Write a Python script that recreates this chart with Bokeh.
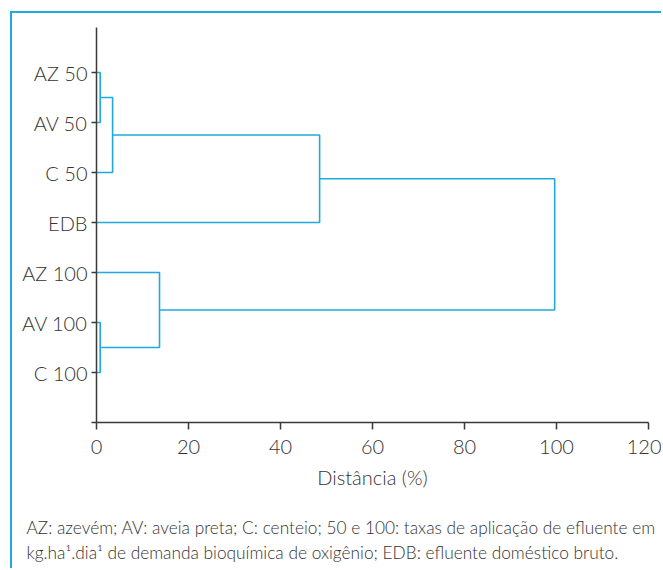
from bokeh.plotting import figure
from bokeh.models import FixedTicker, Range1d, Title
from bokeh.embed import file_html
from bokeh.resources import INLINE

# ---- data ----
leaf_labels = ["AZ 50", "AV 50", "C 50", "EDB", "AZ 100", "AV 100", "C 100"]
# linkage: (node_a, node_b, distance); leaves 0..6, new clusters numbered from 7
link_a = [0, 7, 8, 5, 4, 9]
link_b = [1, 2, 3, 6, 10, 11]
link_h = [0.8, 3.5, 48.5, 0.8, 13.7, 99.6]
x_ticks = [0, 20, 40, 60, 80, 100, 120]
x_title = "Distância (%)"
caption = ["AZ: azevém; AV: aveia preta; C: centeio; 50 e 100: taxas de aplicação de efluente em",
           "kg.ha¹.dia¹ de demanda bioquímica de oxigênio; EDB: efluente doméstico bruto."]

FONT = "Lato Light, Lato"
LINE = "#22a9dd"
AX = "#3a3a3a"
TXT = "#333333"

n = len(leaf_labels)
ypos = {i: n - i for i in range(n)}
xpos = {i: 0.0 for i in range(n)}
xs, ys = [], []
for k, (a, b, h) in enumerate(zip(link_a, link_b, link_h)):
    ya, yb = ypos[a], ypos[b]
    xa, xb = xpos[a], xpos[b]
    xs.append([xa, h, h, xb])
    ys.append([ya, ya, yb, yb])
    ypos[n + k] = (ya + yb) / 2
    xpos[n + k] = h

W, H = 651, 557
ML, MR, MT, MB = 84, 15, 14, 148
p = figure(width=W, height=H, output_backend="svg", toolbar_location=None,
           x_range=Range1d(0, 120), y_range=Range1d(0, 7.9),
           min_border_left=ML, min_border_right=MR, min_border_top=MT, min_border_bottom=MB)
p.outline_line_color = None
p.grid.visible = False
p.styles = {"margin-top": "11px", "margin-left": "10px",
            "border-top": "2px solid " + LINE, "border-left": "2px solid " + LINE}

p.multi_line(xs, ys, line_color=LINE, line_width=1.6)

xa = p.xaxis[0]
xa.ticker = FixedTicker(ticks=x_ticks)
xa.axis_label = x_title
ya_ = p.yaxis[0]
ya_.ticker = FixedTicker(ticks=list(range(0, n + 1)))
over = {n - i: lab for i, lab in enumerate(leaf_labels)}
over[0] = ""
ya_.major_label_overrides = over
for ax in (xa, ya_):
    ax.axis_line_color = AX
    ax.axis_line_width = 1.5
    ax.major_tick_line_color = AX
    ax.major_tick_line_width = 1.5
    ax.major_tick_in = 0
    ax.minor_tick_line_color = None
    ax.major_label_text_font = FONT
    ax.major_label_text_font_size = "20px"
    ax.major_label_text_color = TXT
    ax.axis_label_text_font = FONT
    ax.axis_label_text_font_size = "20px"
    ax.axis_label_text_font_style = "normal"
    ax.axis_label_text_color = TXT
xa.major_tick_out = 7
xa.major_label_standoff = 10
xa.axis_label_standoff = 8
ya_.major_tick_out = 5
ya_.major_label_standoff = 4

# thin spacer between axis title and caption
p.add_layout(Title(text=" ", standoff=21, text_font_size="1px"), "below")
p.add_layout(Title(text="\n".join(caption), align="left", offset=-70, standoff=0,
                   text_font=FONT, text_font_size="17.3px", text_font_style="normal",
                   text_line_height=1.2, text_color=TXT), "below")

open("out.html", "w").write(file_html(p, INLINE))
